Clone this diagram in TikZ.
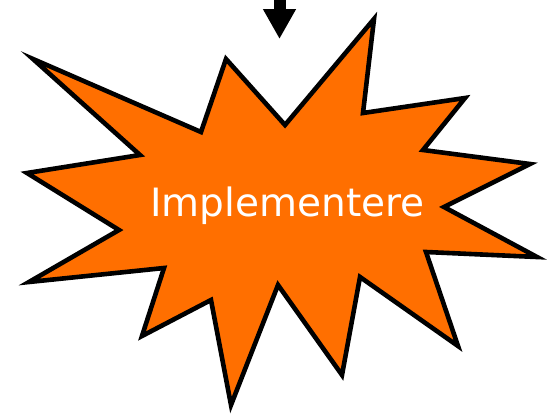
\documentclass[tikz,border=0pt]{standalone}
\usepackage{fontspec}
\setmainfont{DejaVu Sans}
\usetikzlibrary{arrows.meta}
\definecolor{burst}{RGB}{255,111,0}
\tikzset{
  burststyle/.style={fill=burst, draw=black, line width=4.6pt, line join=miter, miter limit=12},
  flowarrow/.style={draw=black, line width=12pt, -{Triangle[width=31pt 0 1, length=30pt 0 1]}},
  labeltext/.style={text=white, font=\fontsize{39}{46}\selectfont, inner sep=0pt, anchor=base}
}
\begin{document}
\begin{tikzpicture}[x=1pt,y=-1pt]
\useasboundingbox (0,0) rectangle (548,415);
\draw[burststyle]
  (33,59) -- (201,132) -- (226,59) -- (285,125) -- (374,19) -- (363,113)
  -- (465,98) -- (423,150) -- (530,164) -- (444,207) -- (537,257) -- (426,252)
  -- (458,346) -- (360,277) -- (342,375) -- (278,285) -- (231,405) -- (211,300)
  -- (142,336) -- (164,268) -- (29,282) -- (119,230) -- (27,173) -- (140,155) -- cycle;
\node[labeltext] (impl) at (287.5,216.7) {Implementere};
\coordinate (src) at (279.5,0);
\coordinate (tgt) at (279.5,39);
\draw[flowarrow] (src) -- (tgt);
\end{tikzpicture}
\end{document}
